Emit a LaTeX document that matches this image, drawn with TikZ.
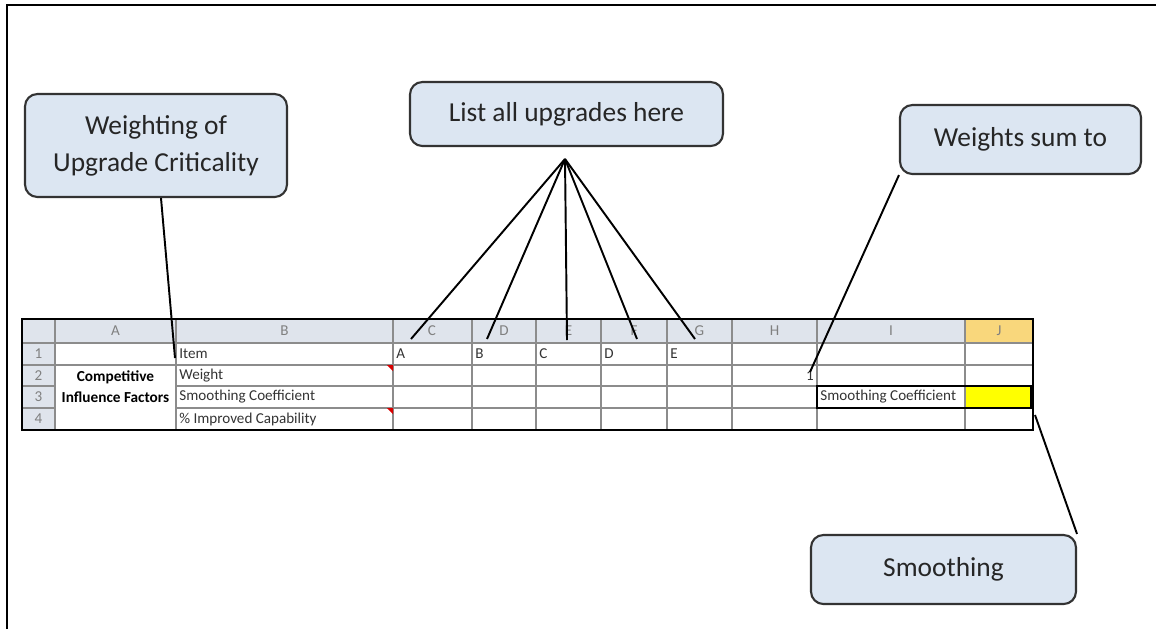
\documentclass[tikz,border=0pt]{standalone}
\usepackage{fontspec}
\setmainfont{Carlito}
\usetikzlibrary{positioning}
\definecolor{calloutfill}{HTML}{DCE6F2}
\definecolor{hdrfill}{HTML}{DFE4EC}
\definecolor{selhdr}{HTML}{F9D77C}
\definecolor{sheetyellow}{HTML}{FFFF00}
\tikzset{
    callout/.style={draw=black!80, line width=1.2pt, rounded corners=7pt, fill=calloutfill,
        font=\fontsize{15.6}{21}\selectfont, text=black!85, align=center, inner sep=0pt},
    cell/.style={font=\fontsize{8.6}{10}\selectfont, text=black!80, anchor=west, inner sep=0pt},
    hdr/.style={font=\fontsize{8.6}{10}\selectfont, text=black!50, inner sep=0pt},
    gridline/.style={draw=black!45, line width=0.8pt},
    pointer/.style={draw=black, line width=1.1pt}
}
\begin{document}
\begin{tikzpicture}[x=0.02cm, y=-0.02cm]
                        \useasboundingbox (0,0) rectangle (1156,629);
                        \draw[line width=1.6pt] (7,629) -- (7,5) -- (1156,5);

                        % callouts
                        \node[callout, minimum width=5.24cm, minimum height=2.06cm] (wc) at (156,145.5) {Weighting of\\Upgrade Criticality};
                        \node[callout, minimum width=6.26cm, minimum height=1.28cm] (lu) at (566.5,114) {List all upgrades here};
                        \node[callout, minimum width=4.82cm, minimum height=1.38cm] (ws) at (1020.5,139.5) {Weights sum to};
                        \node[callout, minimum width=5.3cm, minimum height=1.38cm] (sm) at (943.5,569.5) {Smoothing};

                        % sheet fills
                        \fill[hdrfill] (22,319) rectangle (1033,343);
                        \fill[hdrfill] (22,343) rectangle (55,430);
                        \fill[selhdr] (965,319) rectangle (1033,343);
                        \fill[sheetyellow] (965,386) rectangle (1031,408);

                        % grid
                        \foreach \gx in {55,176,393,472,536,601,667,732,817,965}
                            \draw[gridline] (\gx,319) -- (\gx,430);
                        \draw[gridline] (22,343) -- (1033,343);
                        \draw[gridline] (22,365) -- (1033,365);
                        \draw[gridline] (22,386) -- (55,386);
                        \draw[gridline] (176,386) -- (1033,386);
                        \draw[gridline] (22,408) -- (55,408);
                        \draw[gridline] (176,408) -- (1033,408);
                        \draw[line width=1.3pt] (22,319) rectangle (1033,430);
                        \draw[line width=1.3pt] (817,386) rectangle (1031,408);
                        \fill[red!85!black] (387,365) -- (393,365) -- (393,371) -- cycle;
                        \fill[red!85!black] (387,408) -- (393,408) -- (393,414) -- cycle;

                        % headers
                        \foreach \hx/\hl in {115.5/A,284.5/B,432/C,504/D,568.5/E,634/F,699.5/G,774.5/H,891/I,999/J}
                            \node[hdr] (h\hl) at (\hx,331) {\hl};
                        \foreach \ry/\rl in {354/1,375.5/2,397/3,419/4}
                            \node[hdr] (r\rl) at (38.5,\ry) {\rl};

                        % cells
                        \node[cell] (b1) at (179,354) {Item};
                        \node[cell] (b2) at (179,375.5) {Weight};
                        \node[cell] (b3) at (179,397) {Smoothing Coefficient};
                        \node[cell] (b4) at (179,419) {\% Improved Capability};
                        \node[cell] (c1) at (396,354) {A};
                        \node[cell] (d1) at (475,354) {B};
                        \node[cell] (e1) at (539,354) {C};
                        \node[cell] (f1) at (604,354) {D};
                        \node[cell] (g1) at (670,354) {E};
                        \node[cell, anchor=east] (h2) at (814,375.5) {1};
                        \node[cell] (i3) at (820,397) {Smoothing Coefficient};
                        \node[cell, anchor=center, align=center, font=\fontsize{8.7}{12}\selectfont\bfseries, text=black] (a2) at (115.5,386.5) {Competitive\\Influence Factors};

                        % pointers
                        \coordinate (apex) at (565,159);
                        \coordinate (tipW) at (175,358);
                        \coordinate (tipC) at (411,339);
                        \coordinate (tipD) at (487,339);
                        \coordinate (tipE) at (567,340);
                        \coordinate (tipF) at (637,339);
                        \coordinate (tipG) at (695,339);
                        \coordinate (tipH) at (810,372);
                        \coordinate (tipJ) at (1035,415);
                        \draw[pointer] ([xshift=0.1cm]wc.south) -- (tipW);
                        \foreach \t in {tipC,tipD,tipE,tipF,tipG}
                            \draw[pointer] (apex) -- (\t);
                        \draw[pointer] (ws.south west) -- (tipH);
                        \draw[pointer] (sm.north east) -- (tipJ);
\end{tikzpicture}
\end{document}
